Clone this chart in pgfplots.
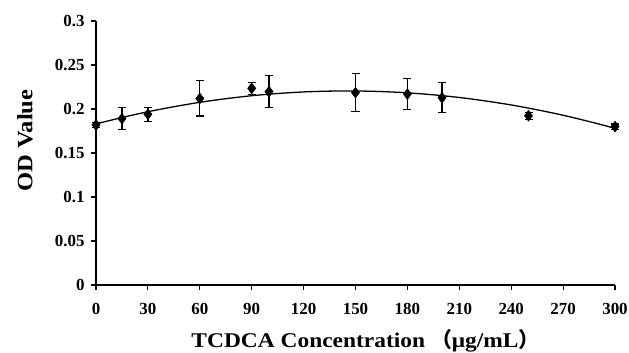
\documentclass[border=0pt]{standalone}
\usepackage{pgfplots}
\pgfplotsset{compat=1.18}
\usepackage{fontspec}
\setmainfont{Liberation Serif}
\newfontfamily\labfont[FakeStretch=1.12]{Liberation Serif}
\newfontfamily\cjk{Noto Sans CJK SC}
\begin{document}
\begin{tikzpicture}
\begin{axis}[
  scale only axis,
  width=519bp, height=264bp,
  xmin=0, xmax=300, ymin=0, ymax=0.3,
  axis x line*=bottom, axis y line*=left,
  axis line style={line width=1.6pt, -},
  xtick={0,30,...,300},
  ytick={0,0.05,0.1,0.15,0.2,0.25,0.3},
  yticklabels={0,0.05,0.1,0.15,0.2,0.25,0.3},
  tick align=outside,
  major tick length=5bp,
  tick style={line width=1.2pt, black},
  /pgf/number format/assume math mode=true,
  tick label style={font=\fontsize{17}{19}\selectfont\bfseries},
  xticklabel style={yshift=-10bp},
  yticklabel style={xshift=-3bp},
  xlabel={TCDCA Concentration {\cjk （}μg/mL{\cjk ）}},
  ylabel={OD Value},
  xlabel style={at={(axis description cs:0.5,0)}, anchor=base, yshift=-62bp, xshift=10bp, font=\fontsize{21}{23}\labfont\bfseries},
  ylabel style={at={(axis description cs:-0.1368,0.547)}, anchor=center, font=\fontsize{22}{24}\labfont\bfseries},
  clip=false,
]
\addplot[black, line width=1.3pt, smooth, no marks] coordinates {
(0,0.1830) (15,0.1903) (30,0.1969) (45,0.2026) (60,0.2076) (75,0.2117)
(90,0.2151) (105,0.2176) (120,0.2194) (135,0.2203) (150,0.2205) (165,0.2198)
(180,0.2184) (195,0.2161) (210,0.2131) (225,0.2092) (240,0.2046) (255,0.1991)
(270,0.1929) (285,0.1858) (300,0.1780)
};
\addplot[black, only marks, mark=diamond*, mark size=5.5bp,
  error bars/.cd, y dir=both, y explicit,
  error bar style={line width=1.3pt},
  error mark options={rotate=90, mark size=4bp, line width=1.3pt}]
  coordinates {
(0,0.182) +- (0,0.003)
(15,0.189) +- (0,0.0125)
(30,0.194) +- (0,0.008)
(60,0.212) +- (0,0.020)
(90,0.2235) +- (0,0.007)
(100,0.2197) +- (0,0.018)
(150,0.2186) +- (0,0.0216)
(180,0.217) +- (0,0.0174)
(200,0.2128) +- (0,0.017)
(250,0.1924) +- (0,0.004)
(300,0.180) +- (0,0.003)
};
\end{axis}
\pgfresetboundingbox
\path ([shift={(-96bp,-68bp)}]current axis.south west) rectangle ([shift={(14bp,21bp)}]current axis.north east);
\end{tikzpicture}
\end{document}
